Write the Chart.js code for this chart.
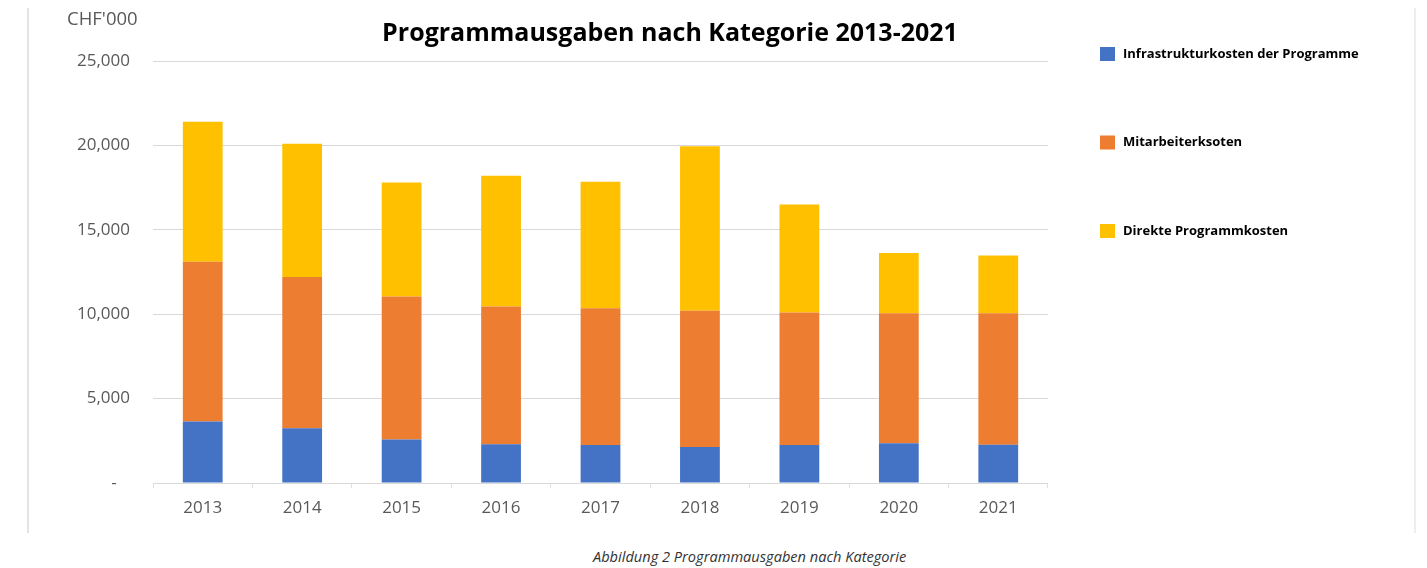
<!DOCTYPE html>
<html>
<head>
<meta charset="utf-8">
<script src="https://cdn.jsdelivr.net/npm/chart.js@4"></script>
<style>
  body { margin: 0; background: #fff; width: 1427px; height: 568px; position: relative; overflow: hidden; }
  #frame { position: absolute; left: 27px; top: 8px; width: 1385px; height: 525px; border-left: 2px solid #e3e3e3; border-right: 2px solid #eeeeee; }
  #chartBox { position: absolute; left: 28px; top: 0; width: 1385px; height: 533px; }
  #caption { position: absolute; left: 593px; top: 546px; white-space: nowrap;
    font-family: 'Open Sans', sans-serif; font-style: italic; font-size: 14.6px; color: #333; }
</style>
</head>
<body>
<div id="frame"></div>
<div id="chartBox"><canvas id="chart"></canvas></div>
<div id="caption">Abbildung 2 Programmausgaben nach Kategorie</div>
<script>
const years = ['2013', '2014', '2015', '2016', '2017', '2018', '2019', '2020', '2021'];
const infrastructure = [3650, 3250, 2580, 2300, 2250, 2130, 2250, 2360, 2270];
const staff = [9450, 8950, 8470, 8150, 8100, 8070, 7850, 7690, 7780];
const direct = [8300, 7900, 6750, 7750, 7500, 9750, 6400, 3580, 3430];
const seriesNames = ['Infrastrukturkosten der Programme', 'Mitarbeiterksoten', 'Direkte Programmkosten'];
const seriesColors = ['#4472C4', '#ED7D31', '#FFC000'];
const yTicks = [0, 5000, 10000, 15000, 20000, 25000];

const tickFont = { family: 'Open Sans', size: 17 };

// title, unit label and legend drawn on the canvas
const extras = {
  id: 'extras',
  afterDraw(chart) {
    const ctx = chart.ctx;
    const area = chart.chartArea;
    ctx.save();
    ctx.fillStyle = '#595959';
    ctx.font = '18.5px "Open Sans"';
    ctx.textAlign = 'left';
    ctx.textBaseline = 'middle';
    ctx.fillText("CHF'000", 39, 20);

    ctx.fillStyle = '#000';
    ctx.font = 'bold 25px "Open Sans"';
    ctx.textAlign = 'center';
    ctx.fillText('Programmausgaben nach Kategorie 2013-2021', 642, 34);

    ctx.textAlign = 'left';
    ctx.font = 'bold 13px "Open Sans"';
    chart.data.datasets.forEach((ds, i) => {
      const y = 54 + i * 88.5;
      ctx.fillStyle = ds.backgroundColor;
      ctx.fillRect(area.right + 52, y - 7, 15, 14);
      ctx.fillStyle = '#000';
      ctx.fillText(ds.label, area.right + 75, y);
    });
    ctx.restore();
  }
};

new Chart(document.getElementById('chart'), {
  type: 'bar',
  data: {
    labels: years,
    datasets: [
      { label: seriesNames[0], data: infrastructure, backgroundColor: seriesColors[0] },
      { label: seriesNames[1], data: staff, backgroundColor: seriesColors[1] },
      { label: seriesNames[2], data: direct, backgroundColor: seriesColors[2] },
    ],
  },
  options: {
    responsive: true,
    maintainAspectRatio: false,
    animation: false,
    barPercentage: 0.8,
    categoryPercentage: 0.5,
    layout: { padding: { top: 61, right: 365, left: 0, bottom: 0 } },
    plugins: {
      legend: { display: false },
      tooltip: { enabled: false },
    },
    scales: {
      x: {
        stacked: true,
        afterFit: (s) => { s.height = 50; },
        border: { display: false },
        grid: { offset: true, drawOnChartArea: false, tickLength: 5, color: '#e0e0e0' },
        ticks: { color: '#595959', font: tickFont, padding: 10 },
      },
      y: {
        stacked: true,
        min: 0,
        max: 25000,
        afterFit: (s) => { s.width = 125; },
        afterBuildTicks: (s) => { s.ticks = yTicks.map((v) => ({ value: v })); },
        border: { display: false },
        grid: { color: '#d9d9d9', drawTicks: false },
        ticks: {
          color: '#595959',
          font: tickFont,
          padding: 23,
          callback: (v) => (v === 0 ? '-   ' : v.toLocaleString('en-US')),
        },
      },
    },
  },
  plugins: [extras],
});
</script>
</body>
</html>
